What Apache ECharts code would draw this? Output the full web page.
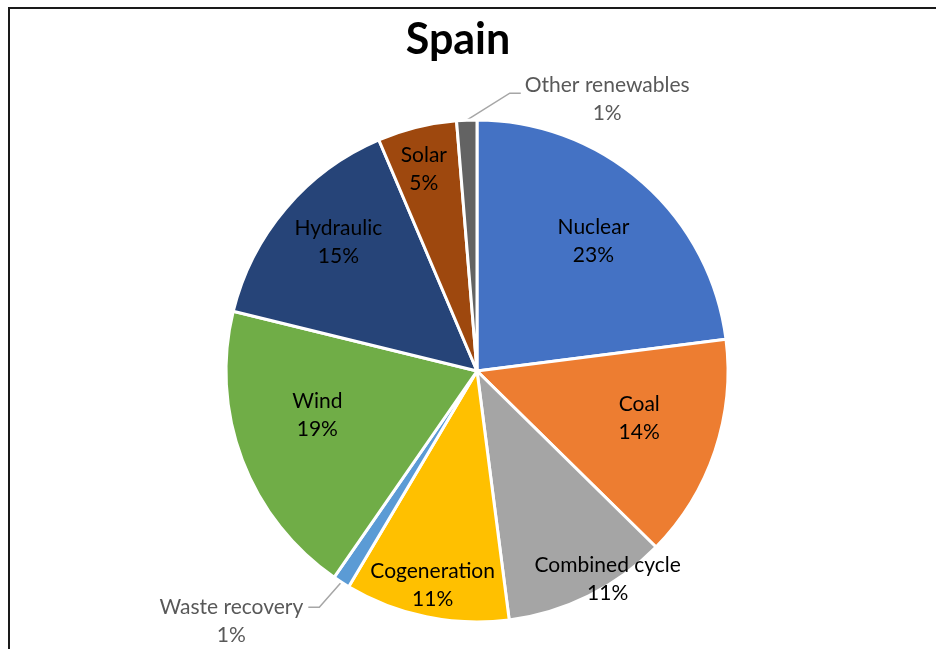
<!DOCTYPE html>
<html>
<head>
<meta charset="utf-8">
<script src="https://cdn.jsdelivr.net/npm/echarts@6/dist/echarts.min.js"></script>
<style>
  html, body { margin: 0; padding: 0; background: #fff; }
  #chart { width: 936px; height: 649px; }
  #frame { position: absolute; left: 8px; top: 7px; width: 940px; height: 660px;
           border-left: 2px solid #1a1a1a; border-top: 2px solid #1a1a1a; pointer-events: none; }
</style>
</head>
<body>
<div id="chart"></div>
<div id="frame"></div>
<script>
// ---- data ----
const chartTitle = 'Spain';
const categories = ['Nuclear', 'Coal', 'Combined cycle', 'Cogeneration', 'Waste recovery', 'Wind', 'Hydraulic', 'Solar', 'Other renewables'];
const shares = [23.0, 14.4, 10.6, 10.6, 1.1, 19.2, 14.8, 5.1, 1.3];

// ---- style ----
const colors = ['#4472C4', '#ED7D31', '#A5A5A5', '#FFC000', '#5B9BD5', '#70AD47', '#264478', '#9E480E', '#636363'];
const labelRadiusFactor = [0.69, 0.67, 0.97, 0.86, null, 0.66, 0.76, 0.84, null];
const labelNudge = [[0, 2], [0, -7], [21, -12], [0, 0], null, [-2, -16], [9, -3], [-2, 6], null];
const outsideItems = ['Waste recovery', 'Other renewables'];
const R = 251;
const CENTER = [477, 371];
const FONT = 'Lato, "Open Sans", sans-serif';

const total = shares.reduce((a, b) => a + b, 0);
const pct = v => Math.round(v / total * 100) + '%';

const chart = echarts.init(document.getElementById('chart'), null, { renderer: 'canvas' });

const series = [];
// main pie (slices + outside labels)
series.push({
  type: 'pie',
  center: CENTER,
  radius: R,
  startAngle: 90,
  clockwise: true,
  avoidLabelOverlap: false,
  animation: false,
  silent: true,
  itemStyle: { borderColor: '#fff', borderWidth: 3 },
  labelLine: { show: true, length: 30, length2: 12, lineStyle: { color: '#A6A6A6', width: 1.5 } },
  label: {
    show: false,
    position: 'outside',
    fontFamily: FONT,
    fontSize: 21,
    lineHeight: 28,
    color: '#595959',
    formatter: p => p.name + '\n' + pct(p.value)
  },
  labelLayout: function (params) {
    const pts = params.labelLinePoints;
    if (!pts) return {};
    const p0 = pts[0];
    const w = params.labelRect.width;
    const name = categories[params.dataIndex];
    if (name === 'Other renewables') {
      return {
        labelLinePoints: [p0, [p0[0] + 43, p0[1] - 27], [p0[0] + 54, p0[1] - 27]],
        x: p0[0] + 58 + w / 2, y: p0[1] - 49,
        align: 'center', verticalAlign: 'top'
      };
    }
    if (name === 'Waste recovery') {
      return {
        labelLinePoints: [p0, [p0[0] - 22, p0[1] + 25], [p0[0] - 33, p0[1] + 25]],
        x: p0[0] - 38 - w / 2, y: p0[1] + 11,
        align: 'center', verticalAlign: 'top'
      };
    }
    return {};
  },
  data: categories.map((name, i) => ({
    name: name,
    value: shares[i],
    itemStyle: { color: colors[i] },
    label: { show: outsideItems.includes(name) },
    labelLine: { show: outsideItems.includes(name) }
  }))
});

// transparent helper rings that only carry inside labels at chosen radii
categories.forEach((name, k) => {
  const f = labelRadiusFactor[k];
  if (f == null) return;
  const nudge = labelNudge[k];
  series.push({
    type: 'pie',
    center: CENTER,
    radius: [f * R - 0.5, f * R + 0.5],
    startAngle: 90,
    clockwise: true,
    avoidLabelOverlap: false,
    animation: false,
    silent: true,
    itemStyle: { color: 'rgba(0,0,0,0)', borderWidth: 0 },
    labelLine: { show: false },
    label: {
      show: false,
      position: 'inside',
      fontFamily: FONT,
      fontSize: 21,
      lineHeight: 28,
      color: '#000',
      formatter: p => p.name + '\n' + pct(p.value)
    },
    labelLayout: function (params) {
      if (params.dataIndex !== k) return {};
      const r = params.labelRect;
      return {
        x: r.x + r.width / 2 + nudge[0],
        y: r.y + r.height / 2 + nudge[1],
        align: 'center', verticalAlign: 'middle'
      };
    },
    data: categories.map((n, i) => ({
      name: n,
      value: shares[i],
      label: { show: i === k }
    }))
  });
});

chart.setOption({
  backgroundColor: '#fff',
  title: {
    text: chartTitle,
    left: 453,
    top: 14,
    textAlign: 'center',
    textStyle: { fontFamily: FONT, fontSize: 43, fontWeight: 'bold', color: '#000' }
  },
  series: series
});
</script>
</body>
</html>
